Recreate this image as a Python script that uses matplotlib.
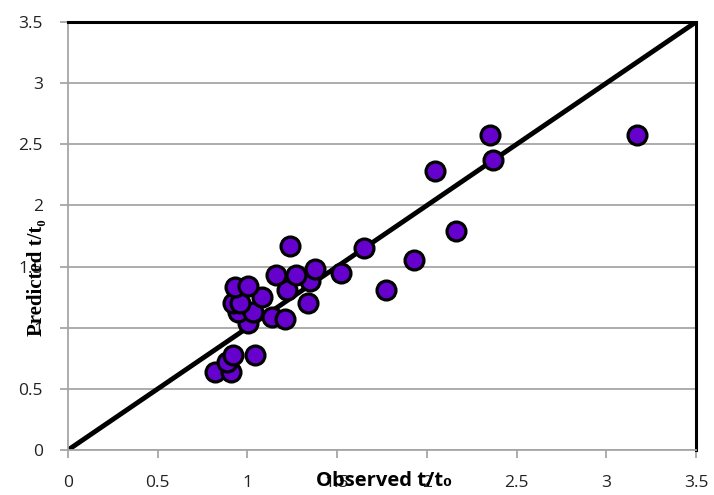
import matplotlib.pyplot as plt
import numpy as np

# observed vs predicted t/t0
observed = [0.82, 0.91, 0.885, 0.92, 1.04, 1.005, 1.135, 1.21, 0.95, 1.03,
            0.92, 0.96, 1.08, 0.93, 1.005, 1.34, 1.22, 1.35, 1.16, 1.27,
            1.375, 1.24, 1.52, 1.65, 1.77, 1.93, 2.16, 2.045, 2.37, 2.35, 3.17]
predicted = [0.635, 0.64, 0.72, 0.78, 0.78, 1.035, 1.09, 1.075, 1.13, 1.13,
             1.20, 1.20, 1.25, 1.33, 1.34, 1.20, 1.31, 1.38, 1.43, 1.43,
             1.48, 1.67, 1.45, 1.65, 1.31, 1.55, 1.79, 2.28, 2.37, 2.58, 2.58]
line_x = [0, 3.5]
line_y = [0, 3.5]
ticks = np.arange(0, 3.51, 0.5)
tick_labels = ["0", "0.5", "1", "1.5", "2", "2.5", "3", "3.5"]

fig = plt.figure(figsize=(7.14, 4.95), dpi=100)
ax = fig.add_axes([68/714, 45/495, 628/714, 428/495])

ax.plot(line_x, line_y, color="black", lw=3.5, zorder=2, solid_capstyle="butt")
ax.scatter(observed, predicted, s=185, c="#6600cc", edgecolors="black",
           linewidths=2.3, zorder=3)

ax.set_xlim(0, 3.5)
ax.set_ylim(0, 3.5)
ax.set_xticks(ticks)
ax.set_yticks(ticks)
ax.set_xticklabels(tick_labels)
ax.set_yticklabels(tick_labels)
ax.grid(axis="y", color="#a6a6a6", lw=1.3)
ax.set_axisbelow(True)

for side in ["left", "bottom"]:
    ax.spines[side].set_color("#a6a6a6")
    ax.spines[side].set_linewidth(1.3)
for side in ["top", "right"]:
    ax.spines[side].set_color("black")
    ax.spines[side].set_linewidth(2.2)

ax.tick_params(axis="both", colors="#a6a6a6", length=6, width=1.3,
               labelcolor="#222222", labelsize=12.5)
ax.tick_params(axis="x", pad=12)
ax.tick_params(axis="y", pad=12)
for lab in ax.get_xticklabels() + ax.get_yticklabels():
    lab.set_family("Open Sans")

# axis titles sit on top of the tick labels, as in the source chart
fig.text(384/714, 1 - 481/495, "Observed t/t\u2080", ha="center", va="center",
         fontsize=14.5, fontweight="bold", family=["Open Sans", "DejaVu Sans"])
fig.text(37/714, 1 - 278/495, "Predicted t/t\u2080", ha="center", va="center",
         rotation=90, fontsize=15, fontweight="bold",
         family=["Liberation Serif", "DejaVu Serif"])

fig.savefig("out.png", dpi=100)
